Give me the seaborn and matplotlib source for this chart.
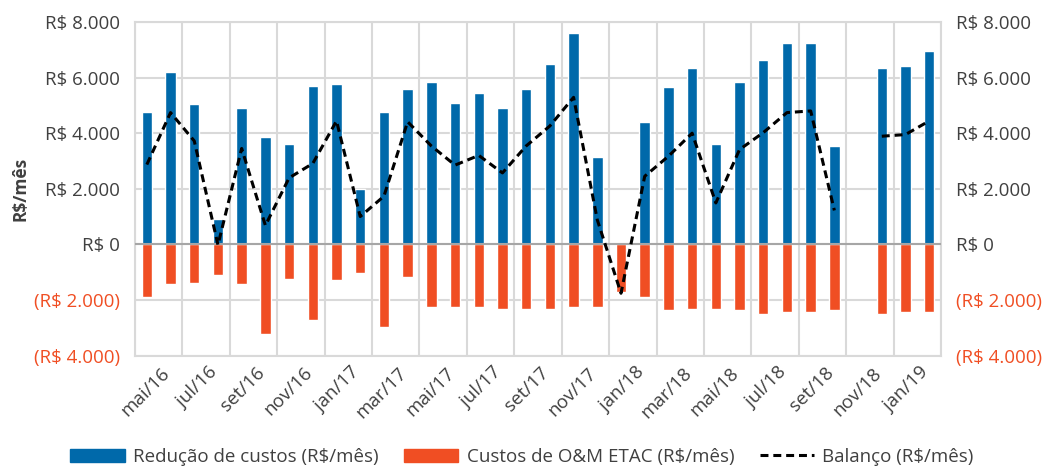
import numpy as np
import pandas as pd
import seaborn as sns
import matplotlib.pyplot as plt
from matplotlib.patches import Patch
from matplotlib.lines import Line2D
from matplotlib.transforms import ScaledTranslation

months = ["mai/16", "jun/16", "jul/16", "ago/16", "set/16", "out/16", "nov/16", "dez/16",
          "jan/17", "fev/17", "mar/17", "abr/17", "mai/17", "jun/17", "jul/17", "ago/17",
          "set/17", "out/17", "nov/17", "dez/17", "jan/18", "fev/18", "mar/18", "abr/18",
          "mai/18", "jun/18", "jul/18", "ago/18", "set/18", "out/18", "nov/18", "dez/18",
          "jan/19", "fev/19"]

reducao = [4750, 6200, 5050, 900, 4900, 3850, 3600, 5700, 5770, 2000, 4750, 5600,
           5850, 5080, 5450, 4900, 5600, 6500, 7620, 3130, None, 4400, 5670, 6350,
           3600, 5850, 6640, 7250, 7250, 3530, None, 6350, 6420, 6970]

custos = [-1880, -1410, -1380, -1090, -1410, -3210, -1230, -2740, -1270, -1020, -2990, -1160,
          -2240, -2240, -2240, -2310, -2310, -2310, -2240, -2240, -1700, -1880, -2380, -2310,
          -2310, -2380, -2490, -2450, -2450, -2350, None, -2490, -2450, -2450]

balanco = [2870, 4740, 3720, -20, 3450, 680, 2390, 2910, 4440, 1000, 1730, 4410,
           3540, 2850, 3200, 2570, 3540, 4260, 5290, 880, -1760, 2450, 3170, 4000,
           1490, 3410, 4020, 4740, 4800, 1220, None, 3890, 3950, 4440]

yticks = [-4000, -2000, 0, 2000, 4000, 6000, 8000]
ytick_labels = ["(R$ 4.000)", "(R$ 2.000)", "R$ 0", "R$ 2.000", "R$ 4.000", "R$ 6.000", "R$ 8.000"]

BLUE = "#0069aa"
ORANGE = "#f04e23"
TXT = "#404040"
GRID = "#d9d9d9"
FS = 13.5

sns.set_style("white")
plt.rcParams['font.family'] = ['Open Sans', 'DejaVu Sans']

df = pd.DataFrame({"mes": months, "reducao": reducao, "custos": custos, "balanco": balanco})
df["pos"] = np.arange(len(df))
# line is broken where there is no data
df["seg"] = df["balanco"].isna().cumsum()

fig = plt.figure(figsize=(10.44, 4.66), dpi=100)
ax = fig.add_axes([0.1293, 0.2371, 0.9014 - 0.1293, 0.9528 - 0.2371])

sns.barplot(data=df.dropna(subset=["reducao"]), x="mes", y="reducao", order=months,
            color=BLUE, saturation=1, width=0.44, errorbar=None, ax=ax, zorder=3)
sns.barplot(data=df.dropna(subset=["custos"]), x="mes", y="custos", order=months,
            color=ORANGE, saturation=1, width=0.44, errorbar=None, ax=ax, zorder=3)
sns.lineplot(data=df.dropna(subset=["balanco"]), x="pos", y="balanco", units="seg",
             estimator=None, color="black", lw=2.2, dashes=False, ax=ax, zorder=4)
for l in ax.get_lines():
    l.set_linestyle((0, (2.6, 1.6)))

ax.axhline(0, color="#a6a6a6", lw=1.5, zorder=3.5)

ax.set_xlim(-0.5, len(months) - 0.5)
ax.set_ylim(-4000, 8000)
ax.set_yticks(yticks)
ax.set_yticklabels(ytick_labels)
ax.tick_params(axis="y", length=0, labelsize=FS, labelright=True, pad=11)
for t, v in zip(ax.yaxis.get_major_ticks(), yticks):
    c = ORANGE if v < 0 else TXT
    t.label1.set_color(c)
    t.label2.set_color(c)

ax.set_xticks(np.arange(0, len(months), 2))
ax.set_xticklabels(months[::2], rotation=45, ha="right", rotation_mode="anchor")
ax.set_xticks(np.arange(-0.5, len(months), 2), minor=True)
ax.tick_params(axis="x", which="both", length=0, labelsize=FS, colors=TXT, pad=6)
off = ScaledTranslation(10 / 72, 0, fig.dpi_scale_trans)
for lbl in ax.get_xticklabels():
    lbl.set_transform(lbl.get_transform() + off)

ax.grid(axis="y", which="major", color=GRID, lw=1.5, zorder=0)
ax.grid(axis="x", which="minor", color=GRID, lw=1.5, zorder=0)
ax.set_axisbelow(True)
for s in ax.spines.values():
    s.set_color(GRID)
    s.set_linewidth(1.5)

ax.set_xlabel("")
ax.set_ylabel("R$/mês", fontsize=12.5, fontweight="bold", color=TXT, labelpad=3)

handles = [Patch(color=BLUE, label="Redução de custos (R$/mês)"),
           Patch(color=ORANGE, label="Custos de O&M ETAC (R$/mês)"),
           Line2D([], [], color="black", lw=2.2, ls=(0, (2.6, 1.6)), label="Balanço (R$/mês)")]
leg = fig.legend(handles=handles, loc="center", bbox_to_anchor=(0.5, 0.02), ncol=3,
                 frameon=False, fontsize=FS, handlelength=2.9, handleheight=0.7,
                 columnspacing=1.35, handletextpad=0.45)
for t in leg.get_texts():
    t.set_color(TXT)

fig.savefig("out.png", dpi=100)
